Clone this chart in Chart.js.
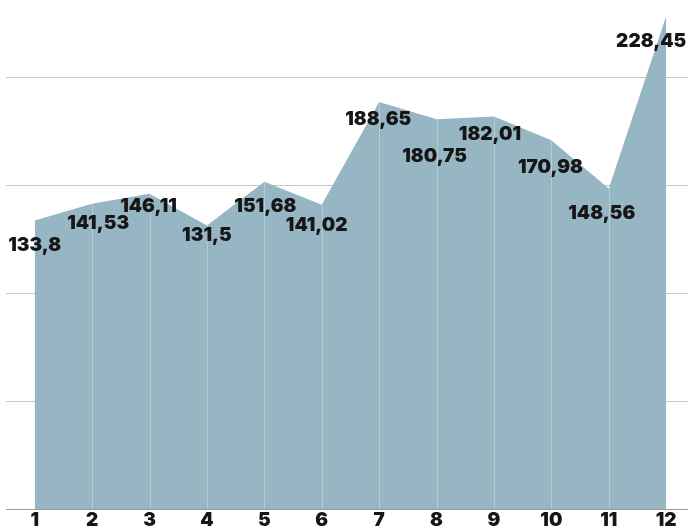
<!DOCTYPE html>
<html>
<head>
<meta charset="utf-8">
<script src="https://cdn.jsdelivr.net/npm/chart.js@4"></script>
<style>
  html, body { margin: 0; padding: 0; background: #fff; }
  #wrap { width: 688px; height: 532px; position: relative; }
</style>
</head>
<body>
<div id="wrap"><canvas id="chart"></canvas></div>
<script>
const months = [1, 2, 3, 4, 5, 6, 7, 8, 9, 10, 11, 12];
const values = [133.8, 141.53, 146.11, 131.5, 151.68, 141.02, 188.65, 180.75, 182.01, 170.98, 148.56, 228.45];
const yTicks = [0, 50, 100, 150, 200];

// small nudges for the value labels (pixels, relative to the point)
const labelDx = [0, 6, -1, 0, 1, -5, -1, -2, -4, -1, -7, -15];
const labelDy = [25, 20, 12, 10, 24, 20, 17, 37, 18, 27, 25, 25];

const FONT = "Inter, 'DejaVu Sans', sans-serif";
const AREA = "#96b6c3";

const fmt = (v) => String(v).replace(".", ",");

// light vertical lines from each point down to the baseline, then value labels
const overlay = {
  id: "overlay",
  afterDatasetsDraw(chart) {
    const ctx = chart.ctx;
    const pts = chart.getDatasetMeta(0).data;
    const bottom = chart.chartArea.bottom;
    ctx.save();
    ctx.strokeStyle = "rgba(255,255,255,0.3)";
    ctx.lineWidth = 1;
    for (let i = 1; i < pts.length - 1; i++) {
      const x = Math.round(pts[i].x) + 0.5;
      ctx.beginPath();
      ctx.moveTo(x, pts[i].y);
      ctx.lineTo(x, bottom);
      ctx.stroke();
    }
    ctx.fillStyle = "#161616";
    ctx.font = "900 19px " + FONT;
    ctx.textAlign = "center";
    ctx.textBaseline = "middle";
    pts.forEach((p, i) => {
      ctx.fillText(fmt(values[i]), p.x + labelDx[i], p.y + labelDy[i]);
    });
    ctx.restore();
  },
};

new Chart(document.getElementById("chart"), {
  type: "line",
  data: {
    datasets: [
      {
        data: months.map((m, i) => ({ x: m, y: values[i] })),
        backgroundColor: AREA,
        borderColor: AREA,
        borderWidth: 0,
        fill: "origin",
        tension: 0,
        pointRadius: 0,
      },
    ],
  },
  options: {
    responsive: true,
    maintainAspectRatio: false,
    animation: false,
    layout: { padding: { left: 6, right: 0, top: 0, bottom: 0 } },
    plugins: { legend: { display: false }, tooltip: { enabled: false } },
    scales: {
      x: {
        type: "linear",
        min: 0.5,
        max: 12.38,
        afterBuildTicks: (axis) => {
          axis.ticks = months.map((v) => ({ value: v }));
        },
        grid: { display: false, drawTicks: false },
        border: { display: true, color: "#9a9a9a", width: 1 },
        ticks: {
          padding: 2,
          color: "#161616",
          font: { family: FONT, size: 19, weight: "900", lineHeight: 1 },
          maxRotation: 0,
          autoSkip: false,
        },
      },
      y: {
        min: 0,
        max: 236,
        afterBuildTicks: (axis) => {
          axis.ticks = yTicks.map((v) => ({ value: v }));
        },
        grid: {
          drawTicks: false,
          color: (c) => (c.tick && c.tick.value === 0 ? "#9a9a9a" : "#c8c8c8"),
        },
        border: { display: false },
        ticks: { display: false },
      },
    },
  },
  plugins: [overlay],
});
</script>
</body>
</html>
